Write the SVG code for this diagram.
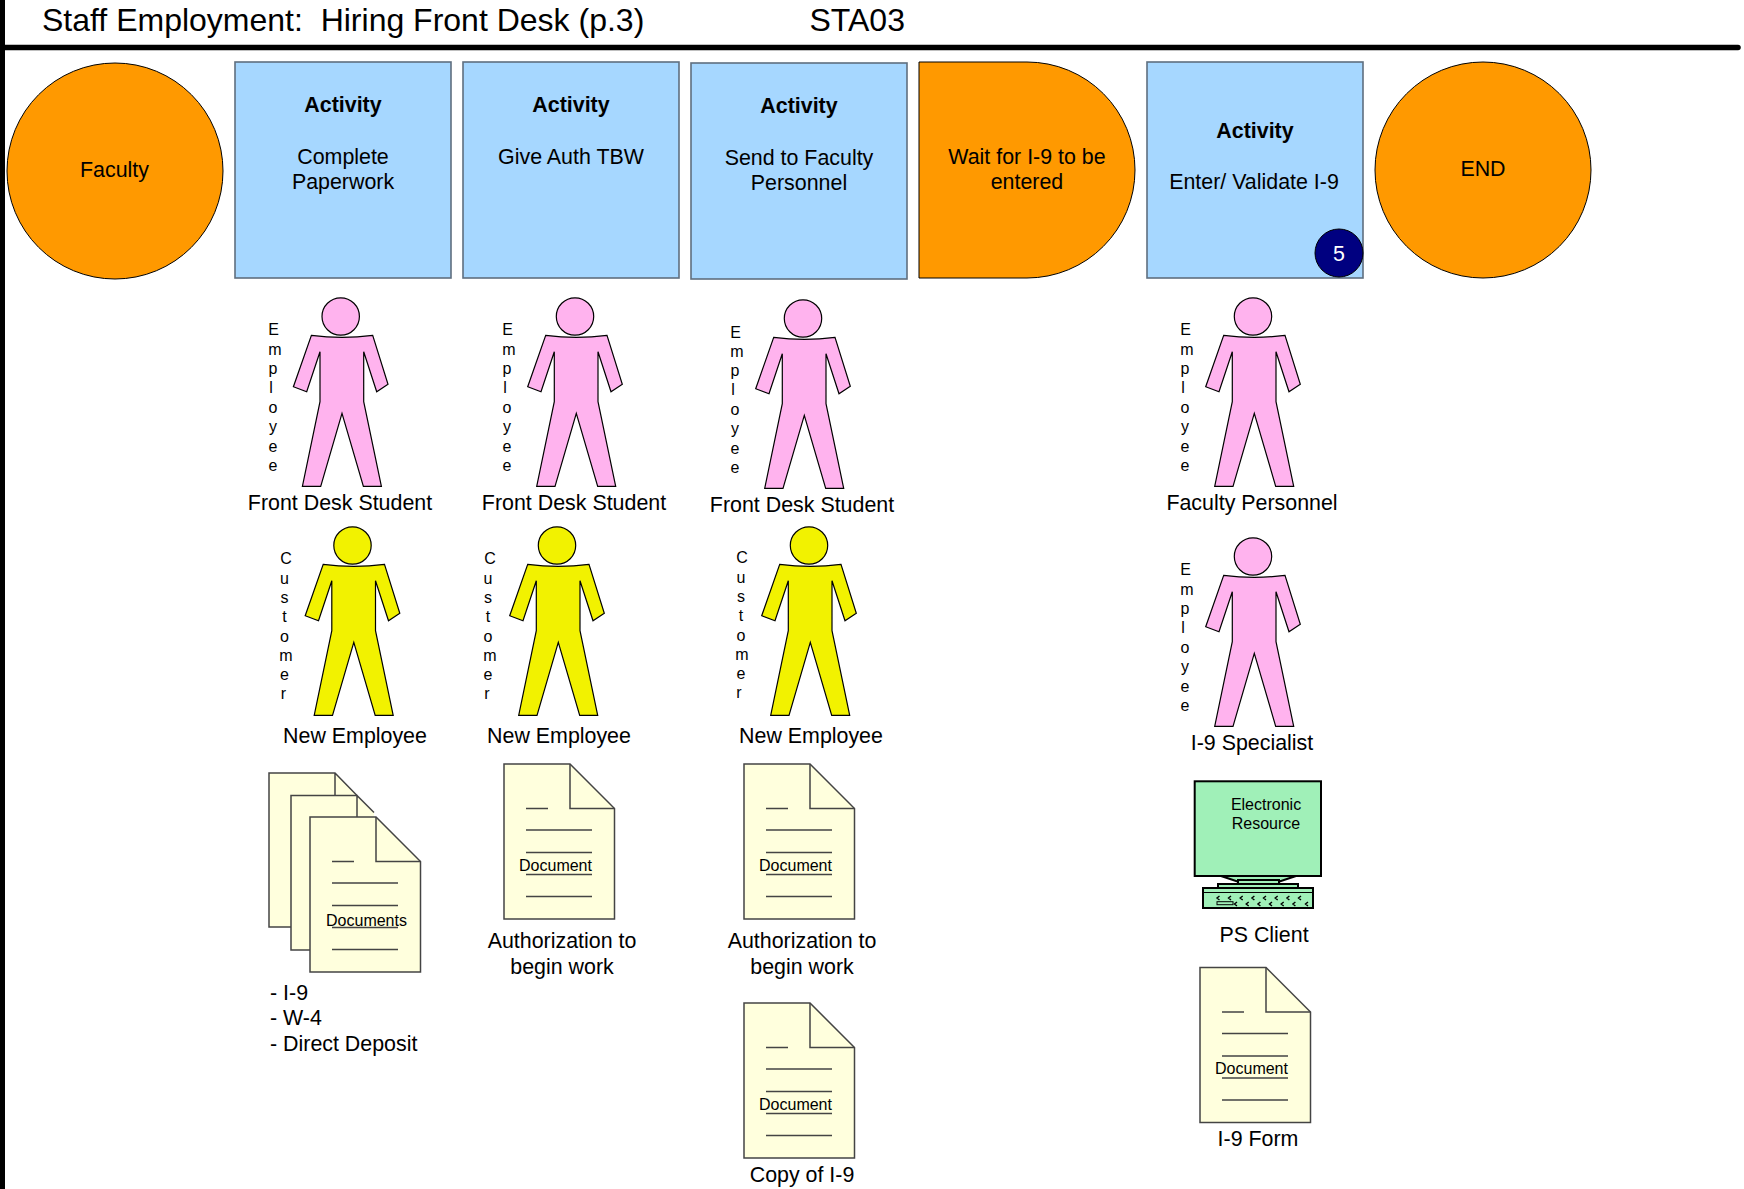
<svg xmlns="http://www.w3.org/2000/svg" width="1744" height="1189" viewBox="0 0 1744 1189">
<style>
text{font-family:"Liberation Sans",Arial,sans-serif;fill:#000;text-anchor:middle}
.l{font-size:21.4px}
.b{font-weight:bold;font-size:21.4px}
.v{font-size:16px}
.d{font-size:16px}
.t{font-size:32px;text-anchor:start;white-space:pre}
.o{fill:#ff9900;stroke:#000;stroke-width:1}
.a{fill:#a6d7ff;stroke:#5f6f7f;stroke-width:1.6}
.pk{fill:#ffb3ee}.yl{fill:#f2f200}
.ps{stroke:#000;stroke-width:1.2}
.doc{fill:#ffffdd;stroke:#444;stroke-width:1.5}
.ln{fill:none;stroke:#444;stroke-width:1.5}
.cr{fill:#ffffdd;stroke:none}
</style>
<defs>
<g id="person" class="ps">
<circle cx="0" cy="0.5" r="18.7"/>
<path d="M-29.3 19.3Q1.3 23.3 32 19.3L47.3 68.3 36 75.7 23 35.7V85.7L40.7 170.3H22.7L1.3 97.3-20 170.3H-38.3L-20.7 85.7V35.7L-34 75.7-47.3 70.7Z"/>
</g>
<g id="docshape">
<path class="doc" d="M0 0H66L110.500 44.500V155H0Z"/>
<path class="ln" d="M66 0V44.500H110.500"/>
<path class="ln" d="M22 44.500H44M22 66H88M22 88.500H88M22 110.500H88M22 132.500H88"/>
</g>
</defs>
<g id="frame">
<rect x="0" y="0" width="5" height="1189" fill="#000"/>
<path d="M5 47.500H1738" stroke="#000" stroke-width="5.500" stroke-linecap="round"/>
<text class="t" x="42" y="31" xml:space="preserve">Staff Employment:  Hiring Front Desk (p.3)</text>
<text class="t" x="809.500" y="31">STA03</text>
</g>
<g id="connectors"/>
<g id="faculty"><circle class="o" cx="115" cy="171" r="108"/><text class="l" x="114.500" y="177">Faculty</text></g>
<g id="a1"><rect class="a" x="235" y="62" width="216" height="216"/><text class="b" x="343" y="112">Activity</text><text class="l" x="343" y="164">Complete</text><text class="l" x="343" y="189">Paperwork</text></g>
<g id="a2"><rect class="a" x="463" y="62" width="216" height="216"/><text class="b" x="571" y="112">Activity</text><text class="l" x="571" y="164">Give Auth TBW</text></g>
<g id="a3"><rect class="a" x="691" y="63" width="216" height="216"/><text class="b" x="799" y="113">Activity</text><text class="l" x="799" y="165">Send to Faculty</text><text class="l" x="799" y="190">Personnel</text></g>
<g id="wait"><path class="o" d="M919 62H1027A108 108 0 0 1 1027 278H919Z"/><text class="l" x="1027" y="164">Wait for I-9 to be</text><text class="l" x="1027" y="189">entered</text></g>
<g id="a5"><rect class="a" x="1147" y="62" width="216" height="216"/><text class="b" x="1255" y="138">Activity</text><text class="l" x="1254" y="189">Enter/ Validate I-9</text><circle cx="1339" cy="253" r="24" fill="#000080" stroke="#000" stroke-width="1"/><text x="1339" y="261" font-size="21.4" style="fill:#fff">5</text></g>
<g id="end"><circle class="o" cx="1483" cy="170" r="108"/><text class="l" x="1483" y="176">END</text></g>

<g id="p1"><use href="#person" x="340.700" y="316" class="pk"/><text class="v" x="273.500" y="335">E</text><text class="v" x="275" y="355">m</text><text class="v" x="273" y="374">p</text><text class="v" x="271" y="393">l</text><text class="v" x="273" y="413">o</text><text class="v" x="273" y="432">y</text><text class="v" x="273" y="452">e</text><text class="v" x="273" y="471">e</text><text class="l" x="340" y="509.500">Front Desk Student</text></g>
<g id="p2"><use href="#person" x="575" y="316" class="pk"/><text class="v" x="507.500" y="335">E</text><text class="v" x="509" y="355">m</text><text class="v" x="507" y="374">p</text><text class="v" x="505" y="393">l</text><text class="v" x="507" y="413">o</text><text class="v" x="507" y="432">y</text><text class="v" x="507" y="452">e</text><text class="v" x="507" y="471">e</text><text class="l" x="574" y="509.500">Front Desk Student</text></g>
<g id="p3"><use href="#person" x="803" y="318" class="pk"/><text class="v" x="735.500" y="337.500">E</text><text class="v" x="737" y="357">m</text><text class="v" x="735" y="376">p</text><text class="v" x="733" y="395">l</text><text class="v" x="735" y="415">o</text><text class="v" x="735" y="434">y</text><text class="v" x="735" y="454">e</text><text class="v" x="735" y="473">e</text><text class="l" x="802" y="511.500">Front Desk Student</text></g>
<g id="p4"><use href="#person" x="1253" y="316" class="pk"/><text class="v" x="1185.500" y="335">E</text><text class="v" x="1187" y="355">m</text><text class="v" x="1185" y="374">p</text><text class="v" x="1183" y="393">l</text><text class="v" x="1185" y="413">o</text><text class="v" x="1185" y="432">y</text><text class="v" x="1185" y="452">e</text><text class="v" x="1185" y="471">e</text><text class="l" x="1252" y="509.500">Faculty Personnel</text></g>
<g id="p5"><use href="#person" x="1253" y="556" class="pk"/><text class="v" x="1185.500" y="575">E</text><text class="v" x="1187" y="595">m</text><text class="v" x="1185" y="614">p</text><text class="v" x="1183" y="633">l</text><text class="v" x="1185" y="653">o</text><text class="v" x="1185" y="672">y</text><text class="v" x="1185" y="692">e</text><text class="v" x="1185" y="711">e</text><text class="l" x="1252" y="749.500">I-9 Specialist</text></g>

<g id="y1"><use href="#person" x="352.500" y="545" class="yl"/><text class="v" x="286" y="564">C</text><text class="v" x="284.500" y="584">u</text><text class="v" x="284.500" y="603">s</text><text class="v" x="284.500" y="622">t</text><text class="v" x="284.500" y="642">o</text><text class="v" x="286" y="661">m</text><text class="v" x="284.500" y="680">e</text><text class="v" x="283.500" y="699">r</text><text class="l" x="355" y="743">New Employee</text></g>
<g id="y2"><use href="#person" x="557" y="545" class="yl"/><text class="v" x="490" y="564">C</text><text class="v" x="488" y="584">u</text><text class="v" x="488" y="603">s</text><text class="v" x="488" y="622">t</text><text class="v" x="488" y="642">o</text><text class="v" x="490" y="661">m</text><text class="v" x="488" y="680">e</text><text class="v" x="487" y="699">r</text><text class="l" x="559" y="743">New Employee</text></g>
<g id="y3"><use href="#person" x="809" y="545" class="yl"/><text class="v" x="742" y="563">C</text><text class="v" x="741" y="583">u</text><text class="v" x="741" y="602">s</text><text class="v" x="741" y="621">t</text><text class="v" x="741" y="641">o</text><text class="v" x="742" y="660">m</text><text class="v" x="741" y="679">e</text><text class="v" x="739" y="698">r</text><text class="l" x="811" y="743">New Employee</text></g>

<g id="docs1">
<path class="cr" d="M269 773H335L357 795.500H291V927H269Z"/>
<path class="ln" d="M291 927H269V773H335L357 795.500M335 773V795.500"/>
<path class="cr" d="M291 795.500H357L374 812.500V817H310V950H291Z"/>
<path class="ln" d="M310 950H291V795.500H357L374 812.500M357 795.500V817"/>
<use href="#docshape" x="310" y="817"/><text class="d" x="366.500" y="926">Documents</text>
<text class="l" x="270" y="1000" style="text-anchor:start">- I-9</text><text class="l" x="270" y="1025" style="text-anchor:start">- W-4</text><text class="l" x="270" y="1051" style="text-anchor:start">- Direct Deposit</text></g>
<g id="doc2"><use href="#docshape" x="504" y="764"/><text class="d" x="555.500" y="871">Document</text><text class="l" x="562" y="948">Authorization to</text><text class="l" x="562" y="974">begin work</text></g>
<g id="doc3"><use href="#docshape" x="744" y="764"/><text class="d" x="795.500" y="871">Document</text><text class="l" x="802" y="948">Authorization to</text><text class="l" x="802" y="974">begin work</text></g>
<g id="doc4"><use href="#docshape" x="744" y="1003"/><text class="d" x="795.500" y="1110">Document</text><text class="l" x="802" y="1182">Copy of I-9</text></g>
<g id="doc5"><use href="#docshape" x="1200" y="967.500"/><text class="d" x="1251.500" y="1074">Document</text><text class="l" x="1258" y="1146">I-9 Form</text></g>

<g id="pc" fill="#a0f0b8" stroke="#000" stroke-width="2">
<rect x="1194.700" y="781.300" width="126.300" height="94.700"/>
<path d="M1221 876L1239 882H1278L1296 876Z"/>
<rect x="1238" y="880" width="41" height="4"/>
<rect x="1218" y="884" width="80" height="4"/>
<rect x="1203" y="888" width="110" height="20"/>
<path d="M1203 892.500H1313" fill="none" stroke-width="1"/>
<rect x="1217" y="901.700" width="16" height="3" stroke-width="1"/>
<path fill="none" stroke-width="1.400" d="M1219.500 896l-2.500 2 2.500 2M1231 896l-2.500 2 2.500 2M1242.700 896l-2.500 2 2.500 2M1254.400 896l-2.500 2 2.500 2M1266 896l-2.500 2 2.500 2M1277.700 896l-2.500 2 2.500 2M1289.400 896l-2.500 2 2.500 2M1301 896l-2.500 2 2.500 2M1237 902l-2.500 2 2.500 2M1248.700 902l-2.500 2 2.500 2M1260.400 902l-2.500 2 2.500 2M1272 902l-2.500 2 2.500 2M1283.700 902l-2.500 2 2.500 2M1295.400 902l-2.500 2 2.500 2M1308 902l-2.500 2 2.500 2"/>
<text class="d" x="1266" y="810" stroke="none" style="fill:#000">Electronic</text><text class="d" x="1266" y="829" stroke="none" style="fill:#000">Resource</text>
<text class="l" x="1264" y="942" stroke="none" style="fill:#000">PS Client</text>
</g>
</svg>
